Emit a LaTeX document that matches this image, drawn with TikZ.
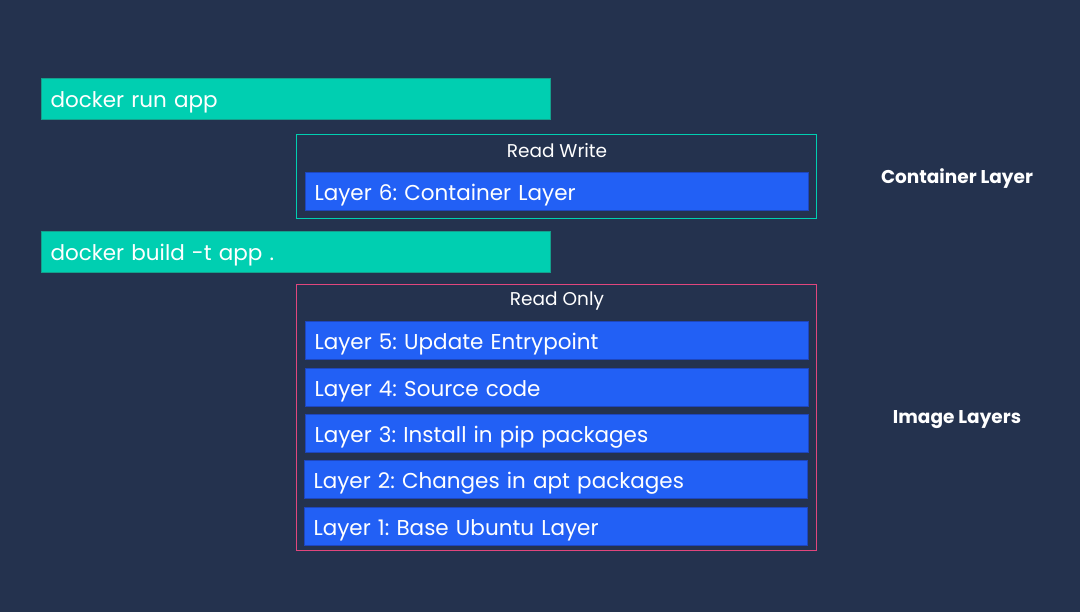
\documentclass[tikz,border=0pt]{standalone}
\usepackage{fontspec}
\setmainfont{Poppins}
\frenchspacing
\definecolor{bg}{RGB}{36,50,78}
\definecolor{teal}{RGB}{0,207,177}
\definecolor{tealdark}{RGB}{20,160,140}
\definecolor{lblue}{RGB}{34,96,245}
\definecolor{lbluedark}{RGB}{30,70,190}
\definecolor{pinkline}{RGB}{224,70,125}
\begin{document}
\begin{tikzpicture}[x=1pt,y=-1pt,
  cmdbox/.style={draw=tealdark,line width=1pt,fill=teal,text=white,anchor=north west,minimum width=509pt,minimum height=41pt,inner xsep=9pt,inner ysep=0pt,text width=491pt,align=left,text height=18.5pt,text depth=2pt,font=\fontsize{21.5}{24}\selectfont},
  layerbox/.style={draw=lbluedark,line width=1pt,fill=lblue,text=white,anchor=north west,minimum width=503pt,minimum height=38pt,inner xsep=9pt,inner ysep=0pt,text width=485pt,align=left,text height=20pt,text depth=2pt,font=\fontsize{21.5}{24}\selectfont},
  groupbox/.style={line width=1.2pt,anchor=north west,minimum width=520pt,inner sep=0pt},
  grouptitle/.style={text=white,font=\fontsize{18.5}{22}\selectfont},
  sidelabel/.style={text=white,font=\bfseries\fontsize{18.5}{22}\selectfont}]
\fill[bg] (0,0) rectangle (1080,612);
\useasboundingbox (0,0) rectangle (1080,612);
\node[cmdbox] (run) at (41,78) {docker run app};
\node[groupbox,draw=teal,minimum height=84pt] (rw) at (296,134) {};
\node[grouptitle] (rwt) at (557,151) {Read Write};
\node[layerbox] (l6) at (305,172) {Layer 6: Container Layer};
\node[cmdbox] (build) at (41,231) {docker build -t app .};
\node[groupbox,draw=pinkline,minimum height=266pt] (ro) at (296,284) {};
\node[grouptitle] (rot) at (557,301) {Read Only};
\node[layerbox] (l5) at (305,321) {Layer 5: Update Entrypoint};
\node[layerbox] (l4) at (305,368) {Layer 4: Source code};
\node[layerbox] (l3) at (305,414) {Layer 3: Install in pip packages};
\node[layerbox] (l2) at (304,460) {Layer 2: Changes in apt packages};
\node[layerbox] (l1) at (304,507) {Layer 1: Base Ubuntu Layer};
\node[sidelabel] (cl) at (957,179) {Container Layer};
\node[sidelabel] (il) at (957,420) {Image Layers};
\end{tikzpicture}
\end{document}
